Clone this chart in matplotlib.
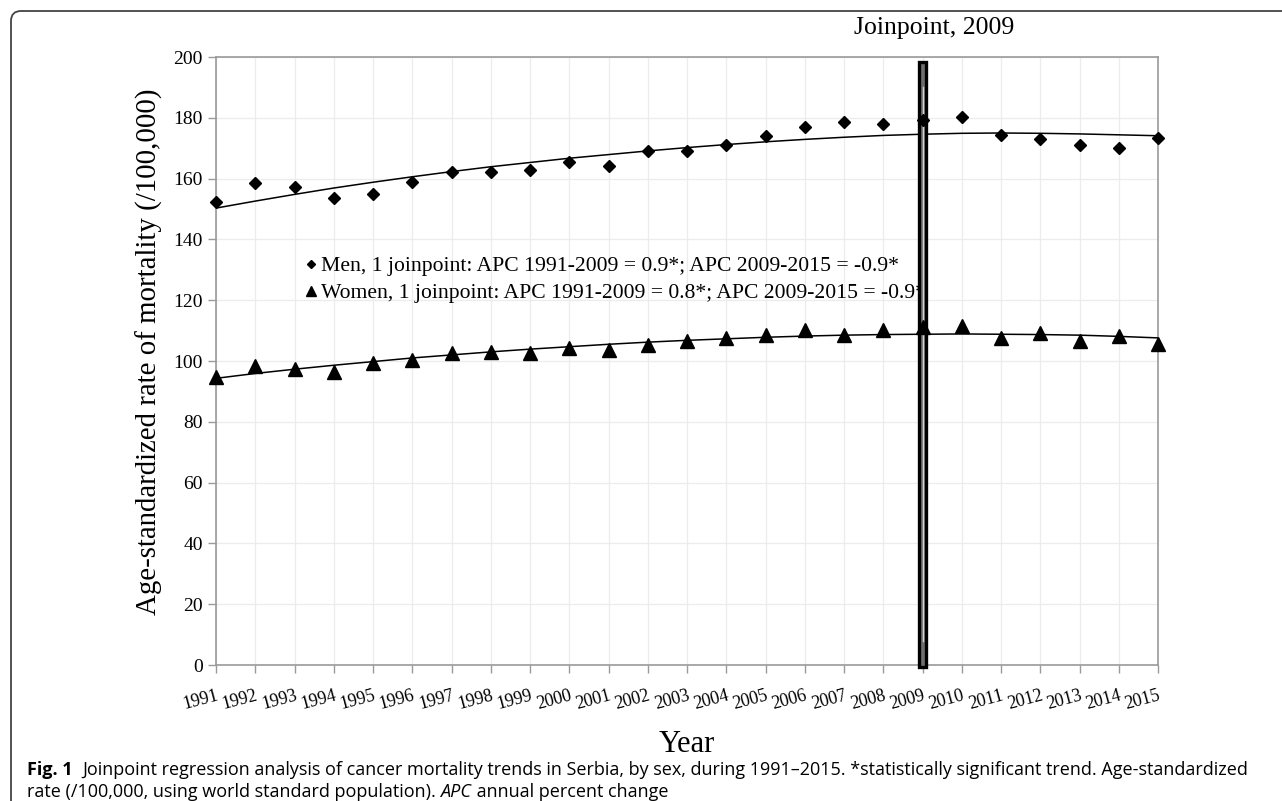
import matplotlib
matplotlib.use("Agg")
import matplotlib.pyplot as plt
from matplotlib.patches import Rectangle, FancyBboxPatch
from matplotlib.text import Annotation
from matplotlib.transforms import IdentityTransform

# Dados (taxa padronizada por idade /100.000)
anos = list(range(1991, 2016))
homens = [152.3, 158.5, 157.2, 153.6, 154.9, 158.9, 162.3, 162.3, 162.9, 165.6, 164.3,
          169.0, 169.0, 171.2, 174.1, 176.9, 178.7, 177.8, 179.3, 180.3, 174.5, 173.1,
          171.0, 170.0, 173.3]
homens_ajuste = [150.3, 152.6, 154.8, 156.9, 158.8, 160.6, 162.3, 163.9, 165.3, 166.7,
                 167.9, 169.1, 170.2, 171.2, 172.1, 172.9, 173.6, 174.2, 174.6, 174.9,
                 175.0, 174.9, 174.7, 174.4, 174.1]
mulheres = [94.8, 98.4, 97.4, 96.5, 99.2, 100.4, 102.6, 102.8, 102.5, 104.4, 103.5,
            105.4, 106.5, 107.5, 108.6, 110.3, 108.4, 110.2, 111.3, 111.4, 107.5, 109.1,
            106.5, 108.2, 105.6]
mulheres_ajuste = [94.3, 95.9, 97.3, 98.6, 99.8, 101.0, 102.0, 103.0, 103.9, 104.7,
                   105.5, 106.2, 106.8, 107.3, 107.8, 108.2, 108.5, 108.7, 108.8, 108.9,
                   108.8, 108.7, 108.5, 108.1, 107.6]
ano_joinpoint = 2009
legenda_homens = "Men, 1 joinpoint: APC 1991-2009 = 0.9*; APC 2009-2015 = -0.9*"
legenda_mulheres = "Women, 1 joinpoint: APC 1991-2009 = 0.8*; APC 2009-2015 = -0.9*"

serif = "Liberation Serif"
sans = "Open Sans"
tam_legenda = 13.0

fig = plt.figure(figsize=(12.82, 8.01), dpi=100)
ax = fig.add_axes([216 / 1282, 136 / 801, 942 / 1282, 608 / 801])

# Grelha e eixos
ax.set_xlim(1991, 2015)
ax.set_ylim(0, 200)
ax.set_xticks(anos)
ax.set_yticks(range(0, 201, 20))
ax.grid(True, color="#ececec", lw=0.9)
ax.set_axisbelow(True)
for lado in ["left", "bottom", "top", "right"]:
    ax.spines[lado].set_color("#9a9a9a")
    ax.spines[lado].set_linewidth(1.2)
ax.tick_params(axis="both", direction="out", length=6, color="#9a9a9a", width=1.0)
ax.tick_params(axis="x", pad=10)
ax.set_yticklabels([str(v) for v in range(0, 201, 20)], fontfamily=serif, fontsize=14)
ax.set_xticklabels([str(a) for a in anos], fontfamily=serif, fontsize=13,
                   rotation=15, ha="right", rotation_mode="anchor")

# Linhas de tendência e pontos
ax.plot(anos, homens_ajuste, color="black", lw=1.1, zorder=3)
ax.plot(anos, mulheres_ajuste, color="black", lw=1.1, zorder=3)
ax.plot(anos, homens, ls="none", marker="D", ms=6.5, color="black", zorder=5,
        clip_on=False, label=legenda_homens)
ax.plot(anos, mulheres, ls="none", marker="^", ms=10, color="black", zorder=5,
        clip_on=False, label=legenda_mulheres)

# Barra do joinpoint
ax.add_patch(Rectangle((ano_joinpoint - 0.1, -0.8), 0.2, 199.0, facecolor="#6e6e6e",
                       edgecolor="black", lw=2.4, zorder=4, clip_on=False))
ax.plot([ano_joinpoint + 0.02] * 2, [8, 190], color="#d0d0d0", lw=1.0, zorder=4.5)
ax.text(ano_joinpoint + 0.3, 1 + 29 / 608, "Joinpoint, 2009", transform=ax.get_xaxis_transform(),
        ha="center", va="center", fontfamily=serif, fontsize=18.5)

leg = ax.legend(loc="upper left", bbox_to_anchor=(0.085, 0.69), frameon=False,
                handlelength=0.4, handletextpad=0.25, markerscale=0.7, labelspacing=0.3,
                borderpad=0, prop={"family": serif, "size": 15.6})
leg.set_zorder(3.8)

ax.set_ylabel("Age-standardized rate of mortality (/100,000)", fontfamily=serif,
              fontsize=20.8)
ax.yaxis.set_label_coords(-0.056, 0.516)
ax.set_xlabel("Year", fontfamily=serif, fontsize=22, labelpad=12)

# Moldura da figura
moldura = FancyBboxPatch((11, -20), 1400, 790 + 20, boxstyle="round,pad=0,rounding_size=10",
                         transform=IdentityTransform(), facecolor="none",
                         edgecolor="#444444", lw=1.3)
fig.patches.append(moldura)

# Legenda da figura
t1 = fig.text(27 / 1282, 1 - 779 / 801, "Fig. 1", fontfamily=sans, fontweight="bold",
              fontsize=tam_legenda, va="bottom")
fig.add_artist(Annotation(
    "Joinpoint regression analysis of cancer mortality trends in Serbia, by sex, during "
    "1991–2015. *statistically significant trend. Age-standardized",
    xy=(1, 0), xycoords=t1, xytext=(7, 0), textcoords="offset points",
    fontfamily=sans, fontsize=tam_legenda, va="bottom"))
t3 = fig.text(27 / 1282, 1 - 801 / 801, "rate (/100,000, using world standard population). ",
              fontfamily=sans, fontsize=tam_legenda, va="bottom")
t4 = fig.add_artist(Annotation(
    "APC", xy=(1, 0), xycoords=t3, fontfamily=sans, fontstyle="italic",
    fontsize=tam_legenda, va="bottom"))
fig.add_artist(Annotation(
    " annual percent change", xy=(1, 0), xycoords=t4, fontfamily=sans,
    fontsize=tam_legenda, va="bottom"))

fig.savefig("out.png", dpi=100)
